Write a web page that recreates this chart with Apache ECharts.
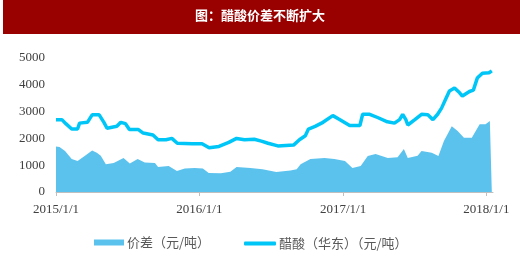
<!DOCTYPE html>
<html><head><meta charset="utf-8">
<script src="https://cdn.jsdelivr.net/npm/echarts@6/dist/echarts.min.js"></script>
<style>html,body{margin:0;padding:0;background:#fff}#c{width:520px;height:270px}</style>
</head><body><div id="c"></div>
<script>
const titleText = '图：醋酸价差不断扩大';
const seriesNames = ['价差（元/吨）', '醋酸（华东）（元/吨）'];
const yTicks = [0, 1000, 2000, 3000, 4000, 5000];

const acidDates = ['2015-01-01','2015-01-16','2015-01-26','2015-02-10','2015-02-25','2015-03-02','2015-03-22','2015-04-03','2015-04-21','2015-05-03','2015-05-11','2015-06-05','2015-06-15','2015-06-27','2015-07-07','2015-07-30','2015-08-11','2015-09-05','2015-09-18','2015-10-08','2015-10-23','2015-11-06','2015-12-14','2016-01-08','2016-01-26','2016-02-20','2016-03-16','2016-04-05','2016-04-25','2016-05-20','2016-06-07','2016-06-24','2016-07-19','2016-08-28','2016-09-12','2016-09-27','2016-10-05','2016-10-22','2016-11-11','2016-12-06','2016-12-21','2017-01-18','2017-02-13','2017-02-20','2017-03-10','2017-03-30','2017-04-24','2017-05-12','2017-05-25','2017-06-02','2017-06-10','2017-06-15','2017-07-03','2017-07-20','2017-08-05','2017-08-18','2017-08-30','2017-09-09','2017-09-19','2017-09-29','2017-10-12','2017-10-25','2017-11-01','2017-11-19','2017-11-29','2017-12-09','2017-12-22','2018-01-08','2018-01-15'];
const acidValues = [2700,2700,2550,2350,2350,2570,2600,2880,2880,2600,2380,2450,2600,2550,2330,2330,2200,2130,1950,1950,2000,1820,1800,1800,1650,1700,1850,2000,1950,1970,1900,1820,1720,1750,1950,2100,2350,2450,2600,2850,2720,2480,2480,2900,2900,2780,2620,2570,2700,2900,2700,2500,2700,2900,2880,2700,2900,3130,3450,3770,3880,3700,3580,3750,3800,4250,4430,4450,4520];

const diffDates = ['2015-01-01','2015-01-10','2015-01-24','2015-02-10','2015-02-25','2015-03-15','2015-04-03','2015-04-15','2015-04-25','2015-05-08','2015-05-28','2015-06-22','2015-07-08','2015-07-28','2015-08-15','2015-09-10','2015-09-18','2015-10-15','2015-11-05','2015-11-25','2015-12-20','2016-01-10','2016-01-25','2016-02-25','2016-03-20','2016-04-05','2016-05-10','2016-06-10','2016-07-15','2016-08-20','2016-09-05','2016-09-15','2016-10-10','2016-11-15','2016-12-10','2017-01-06','2017-01-25','2017-02-15','2017-03-05','2017-03-25','2017-04-25','2017-05-20','2017-06-05','2017-06-15','2017-07-10','2017-07-20','2017-08-15','2017-09-01','2017-09-15','2017-10-05','2017-10-20','2017-11-05','2017-11-25','2017-12-15','2017-12-30','2018-01-10','2018-01-15'];
const diffValues = [1700,1680,1530,1230,1160,1340,1550,1460,1350,1040,1080,1270,1060,1230,1100,1080,930,970,780,880,900,880,710,700,760,930,900,850,750,800,850,1040,1230,1270,1230,1160,900,970,1340,1420,1270,1300,1600,1270,1350,1530,1460,1340,1900,2450,2280,2020,2020,2530,2530,2650,2700];

const xMin = '2015-01-01';
const xMax = '2018-01-18';

const chart = echarts.init(document.getElementById('c'), null, {renderer: 'canvas'});
const pair = (d, v) => d.map((x, i) => [x, v[i]]);
const serif = '"Liberation Serif", "DejaVu Serif", serif';
const cjk = '"Noto Sans CJK SC", sans-serif';
const DAY = 86400000;

chart.setOption({
  animation: false,
  backgroundColor: '#fff',
  graphic: [
    {type: 'rect', left: 3, top: 0, shape: {width: 517, height: 34}, style: {fill: '#990000'}},
    {type: 'text', left: 'center', top: 9, style: {text: titleText, fill: '#fff', font: 'bold 13px ' + cjk}}
  ],
  grid: {left: 56, right: 27, top: 58, bottom: 78},
  xAxis: {
    type: 'time', min: xMin, max: xMax,
    minInterval: 365 * DAY, maxInterval: 366 * DAY,
    axisLine: {lineStyle: {color: '#bfbfbf'}},
    axisTick: {show: true, length: 4, lineStyle: {color: '#bfbfbf'}},
    splitLine: {show: false},
    axisLabel: {
      color: '#404040', fontFamily: serif, fontSize: 13, margin: 11, showMinLabel: true,
      formatter: v => { const d = new Date(v); return d.getFullYear() + '/' + (d.getMonth() + 1) + '/' + d.getDate(); }
    }
  },
  yAxis: {
    type: 'value', min: yTicks[0], max: yTicks[yTicks.length - 1], interval: 1000,
    axisLine: {show: false}, axisTick: {show: false}, splitLine: {show: false},
    axisLabel: {color: '#404040', fontFamily: serif, fontSize: 13, margin: 11, formatter: v => String(v)}
  },
  legend: [
    {data: [{name: seriesNames[0], icon: 'rect'}], left: 94, top: 236, padding: 0, itemWidth: 30, itemHeight: 6, itemGap: 4,
     textStyle: {color: '#595959', fontFamily: cjk, fontSize: 13, padding: [0, 0, 0, -2]}},
    {data: [{name: seriesNames[1], icon: 'roundRect'}], left: 244, top: 237, padding: 0, itemWidth: 32, itemHeight: 4,
     textStyle: {color: '#595959', fontFamily: cjk, fontSize: 13, padding: [0, 0, 0, -2]}}
  ],
  series: [
    {name: seriesNames[0], type: 'line', data: pair(diffDates, diffValues), showSymbol: false,
     lineStyle: {width: 0}, itemStyle: {color: '#5BC2EE'}, areaStyle: {color: '#5BC2EE', opacity: 1}},
    {name: seriesNames[1], type: 'line', data: pair(acidDates, acidValues), showSymbol: false,
     lineStyle: {width: 3.5, color: '#00C6F8'}, itemStyle: {color: '#00C6F8'}}
  ]
});
</script></body></html>
